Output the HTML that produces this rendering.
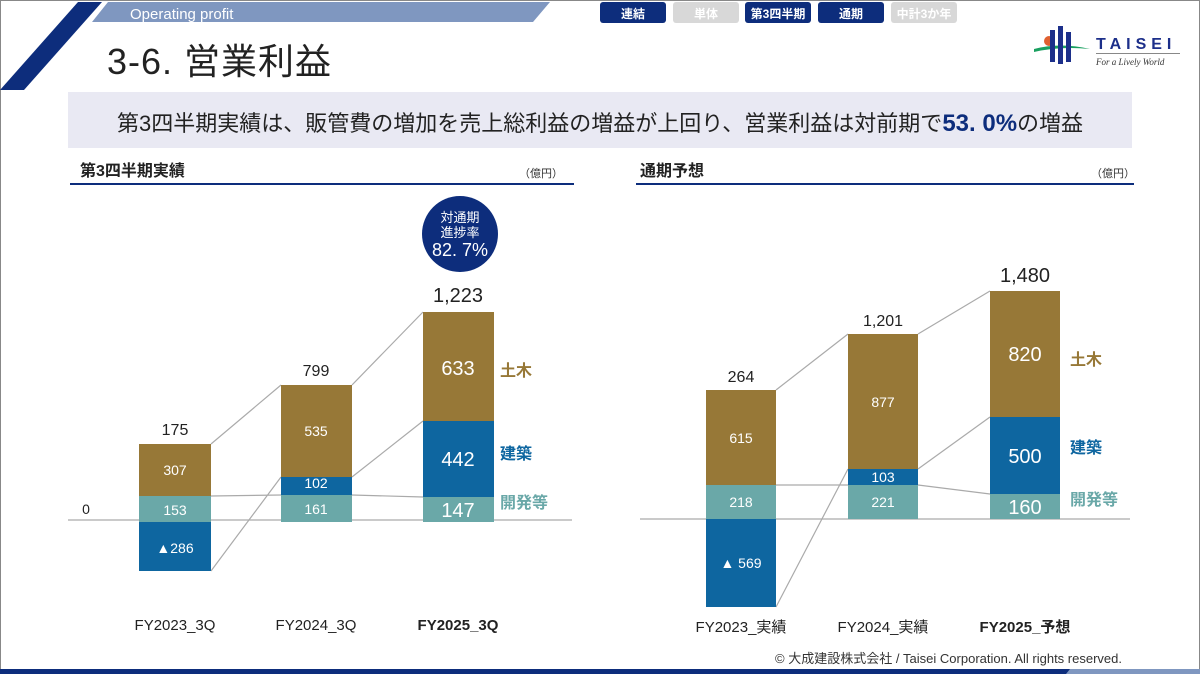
<!DOCTYPE html>
<html><head><meta charset="utf-8"><style>
html,body{margin:0;padding:0;background:#fff}
body{width:1200px;height:674px;overflow:hidden;position:relative;font-family:"Liberation Sans","Noto Sans CJK JP",sans-serif}
</style></head><body>
<svg width="1200" height="674" viewBox="0 0 1200 674" xmlns="http://www.w3.org/2000/svg" style="position:absolute;left:0;top:0;font-family:'Liberation Sans','Noto Sans CJK JP',sans-serif">
<rect x="0.5" y="0.5" width="1199" height="673" fill="none" stroke="#888" stroke-width="1"/>
<polygon points="78,2 102,2 24,90 0,90" fill="#0d2d7c"/>
<polygon points="108,2 550,2 533,22 92,22" fill="#7f97c0"/>
<text x="130" y="19" font-size="15" fill="#fff">Operating profit</text>
<text x="107" y="74" font-size="36" fill="#222" letter-spacing="1">3-6. 営業利益</text>
<g font-size="12" text-anchor="middle" font-weight="bold">
<rect x="600" y="2" width="66" height="21" rx="3" fill="#0d2d7c"/><text x="633" y="18" fill="#fff">連結</text>
<rect x="673" y="2" width="66" height="21" rx="3" fill="#d8d8d8"/><text x="706" y="18" fill="#fff">単体</text>
<rect x="745" y="2" width="66" height="21" rx="3" fill="#0d2d7c"/><text x="778" y="18" fill="#fff">第3四半期</text>
<rect x="818" y="2" width="66" height="21" rx="3" fill="#0d2d7c"/><text x="851" y="18" fill="#fff">通期</text>
<rect x="891" y="2" width="66" height="21" rx="3" fill="#d8d8d8"/><text x="924" y="18" fill="#fff">中計3か年</text>
</g>
<circle cx="1049" cy="41" r="5" fill="#e06030"/>
<path d="M1034,49 Q1060,42 1090,49 Q1060,46 1034,52Z" fill="#1aa060"/>
<rect x="1050" y="30" width="5" height="32" fill="#1c2f8a"/><rect x="1058" y="26" width="5" height="38" fill="#1c2f8a"/><rect x="1066" y="32" width="5" height="30" fill="#1c2f8a"/>
<text x="1096" y="49" font-size="16" font-weight="bold" fill="#1c2f8a" letter-spacing="5">TAISEI</text>
<rect x="1096" y="53" width="84" height="1" fill="#888"/>
<text x="1096" y="65" font-size="9" font-style="italic" font-family="Liberation Serif,serif" fill="#333">For a Lively World</text>
<rect x="68" y="92" width="1064" height="56" fill="#e9e9f3"/>
<text x="600" y="131" font-size="22" fill="#222" text-anchor="middle">第3四半期実績は、販管費の増加を売上総利益の増益が上回り、営業利益は対前期で<tspan fill="#0d2d7c" font-weight="bold" font-size="24">53. 0%</tspan>の増益</text>
<text x="80" y="176" font-size="16" font-weight="bold" fill="#222">第3四半期実績</text>
<text x="563" y="177" font-size="11" fill="#333" text-anchor="end">（億円）</text>
<rect x="70" y="183" width="504" height="2" fill="#0d2d7c"/>
<text x="640" y="176" font-size="16" font-weight="bold" fill="#222">通期予想</text>
<text x="1135" y="177" font-size="11" fill="#333" text-anchor="end">（億円）</text>
<rect x="636" y="183" width="498" height="2" fill="#0d2d7c"/>
<circle cx="460" cy="234" r="38" fill="#0d2d7c"/>
<g fill="#fff" text-anchor="middle"><text x="460" y="222" font-size="13">対通期</text><text x="460" y="237" font-size="13">進捗率</text><text x="460" y="256" font-size="18">82. 7%</text></g>
<g stroke="#aaa" stroke-width="1.2" fill="none">
<line x1="68" y1="520" x2="572" y2="520"/>
<line x1="211" y1="444" x2="281" y2="385"/><line x1="352" y1="385" x2="423" y2="312"/>
<line x1="211" y1="571" x2="281" y2="477"/><line x1="352" y1="477" x2="423" y2="421"/>
<line x1="211" y1="496" x2="281" y2="495"/><line x1="352" y1="495" x2="423" y2="497"/>
<line x1="640" y1="519" x2="1130" y2="519"/>
<line x1="776" y1="390" x2="848" y2="334"/><line x1="918" y1="334" x2="990" y2="291"/>
<line x1="776" y1="607" x2="848" y2="469"/><line x1="918" y1="469" x2="990" y2="417"/>
<line x1="776" y1="485" x2="848" y2="485"/><line x1="918" y1="485" x2="990" y2="494"/>
</g>
<g>
<rect x="139" y="444" width="72" height="52" fill="#977837"/><rect x="139" y="496" width="72" height="26" fill="#6aa8a8"/><rect x="139" y="522" width="72" height="49" fill="#0e66a0"/>
<rect x="281" y="385" width="71" height="92" fill="#977837"/><rect x="281" y="477" width="71" height="18" fill="#0e66a0"/><rect x="281" y="495" width="71" height="27" fill="#6aa8a8"/>
<rect x="423" y="312" width="71" height="109" fill="#977837"/><rect x="423" y="421" width="71" height="76" fill="#0e66a0"/><rect x="423" y="497" width="71" height="25" fill="#6aa8a8"/>
<rect x="706" y="390" width="70" height="95" fill="#977837"/><rect x="706" y="485" width="70" height="34" fill="#6aa8a8"/><rect x="706" y="519" width="70" height="88" fill="#0e66a0"/>
<rect x="848" y="334" width="70" height="135" fill="#977837"/><rect x="848" y="469" width="70" height="16" fill="#0e66a0"/><rect x="848" y="485" width="70" height="34" fill="#6aa8a8"/>
<rect x="990" y="291" width="70" height="126" fill="#977837"/><rect x="990" y="417" width="70" height="77" fill="#0e66a0"/><rect x="990" y="494" width="70" height="25" fill="#6aa8a8"/>
</g>
<g fill="#fff" text-anchor="middle" font-size="14">
<text x="175" y="475">307</text><text x="175" y="515">153</text><text x="175" y="553">▲286</text>
<text x="316" y="436">535</text><text x="316" y="488">102</text><text x="316" y="514">161</text>
<text x="458" y="375" font-size="20">633</text><text x="458" y="466" font-size="20">442</text><text x="458" y="517" font-size="20">147</text>
<text x="741" y="443">615</text><text x="741" y="507">218</text><text x="741" y="568">▲ 569</text>
<text x="883" y="407">877</text><text x="883" y="482">103</text><text x="883" y="507">221</text>
<text x="1025" y="361" font-size="20">820</text><text x="1025" y="463" font-size="20">500</text><text x="1025" y="514" font-size="20">160</text>
</g>
<g fill="#222" text-anchor="middle" font-size="16">
<text x="175" y="435">175</text><text x="316" y="376">799</text><text x="458" y="302" font-size="20">1,223</text>
<text x="741" y="382">264</text><text x="883" y="326">1,201</text><text x="1025" y="282" font-size="20">1,480</text>
<text x="86" y="514" font-size="14">0</text>
<text x="175" y="630" font-size="15">FY2023_3Q</text><text x="316" y="630" font-size="15">FY2024_3Q</text><text x="458" y="630" font-size="15" font-weight="bold">FY2025_3Q</text>
<text x="741" y="632" font-size="15">FY2023_実績</text><text x="883" y="632" font-size="15">FY2024_実績</text><text x="1025" y="632" font-size="15" font-weight="bold">FY2025_予想</text>
</g>
<g font-size="16" font-weight="bold">
<text x="500" y="376" fill="#977837">土木</text><text x="500" y="459" fill="#0e66a0">建築</text><text x="500" y="508" fill="#6aa8a8">開発等</text>
<text x="1070" y="365" fill="#977837">土木</text><text x="1070" y="453" fill="#0e66a0">建築</text><text x="1070" y="505" fill="#6aa8a8">開発等</text>
</g>
<text x="1122" y="663" font-size="13" fill="#333" text-anchor="end">© 大成建設株式会社 / Taisei Corporation. All rights reserved.</text>
<rect x="0" y="669" width="1070" height="5" fill="#0d2d7c"/>
<polygon points="1070,669 1200,669 1200,674 1066,674" fill="#7f97c0"/>
</svg>
</body></html>
